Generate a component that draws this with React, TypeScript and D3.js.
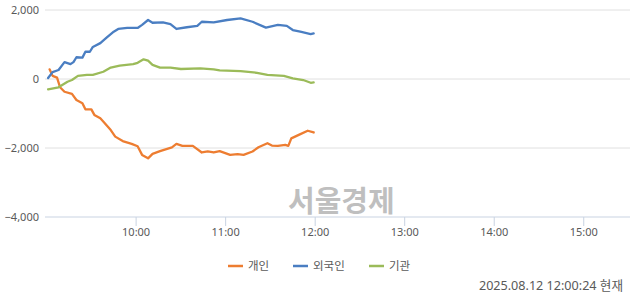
import React from "react";
import * as d3 from "d3";

const W = 640;
const H = 294;

const yTicks = [2000, 0, -2000, -4000];
const xTickLabels = ["10:00", "11:00", "12:00", "13:00", "14:00", "15:00"];

const personTimes = ["09:02","09:04","09:07","09:09","09:12","09:17","09:20","09:24","09:26","09:30","09:32","09:36","09:39","09:43","09:46","09:51","09:57","10:01","10:04","10:08","10:11","10:16","10:24","10:27","10:31","10:38","10:44","10:48","10:52","10:56","11:03","11:08","11:12","11:18","11:22","11:28","11:31","11:35","11:40","11:42","11:44","11:49","11:55","11:59"];
const personValues = [280,90,40,-240,-370,-430,-610,-700,-880,-880,-1040,-1140,-1280,-1480,-1670,-1800,-1880,-1950,-2200,-2300,-2170,-2090,-1980,-1880,-1940,-1940,-2130,-2100,-2130,-2090,-2200,-2180,-2200,-2100,-1980,-1860,-1930,-1940,-1910,-1940,-1720,-1620,-1500,-1550];

const foreignTimes = ["09:01","09:04","09:08","09:12","09:16","09:18","09:20","09:24","09:26","09:29","09:31","09:36","09:40","09:45","09:48","09:54","10:01","10:04","10:08","10:11","10:18","10:23","10:27","10:34","10:41","10:44","10:52","11:01","11:10","11:18","11:27","11:35","11:41","11:45","11:50","11:57","11:59"];
const foreignValues = [30,200,260,490,430,490,630,620,790,790,930,1040,1190,1370,1450,1480,1480,1570,1710,1630,1640,1590,1450,1500,1540,1660,1640,1710,1760,1660,1490,1570,1540,1420,1370,1300,1320];

const instTimes = ["09:01","09:08","09:14","09:17","09:21","09:27","09:31","09:38","09:43","09:49","09:58","10:01","10:05","10:08","10:11","10:16","10:23","10:30","10:43","10:52","10:56","11:10","11:21","11:28","11:39","11:45","11:52","11:57","11:59"];
const instValues = [-300,-240,-80,-30,90,120,120,210,330,390,430,470,570,530,410,330,330,290,310,280,250,230,180,120,90,20,-30,-110,-100];

const seriesNames = ["개인", "외국인", "기관"];
const seriesColors = ["#ED7D31", "#4A7EC2", "#9BBB59"];
const footerText = "2025.08.12 12:00:24 현재";
const watermark = "서울경제";

const parse = d3.timeParse("%H:%M");

export default function App() {
  const left = 46.6;
  const right = 630;
  const x = d3
    .scaleTime()
    .domain([parse("09:00") as Date, parse("15:31") as Date])
    .range([left, right]);
  const y = d3.scaleLinear().domain([-4000, 2000]).range([217, 10]);

  const series = [
    { times: personTimes, values: personValues },
    { times: foreignTimes, values: foreignValues },
    { times: instTimes, values: instValues },
  ];

  const line = d3
    .line<[Date, number]>()
    .x((d) => x(d[0]))
    .y((d) => y(d[1]));

  const font = "'Noto Sans', 'Noto Sans CJK KR', sans-serif";
  const kfont = "'Noto Sans CJK KR', 'Noto Sans', sans-serif";
  const textColor = "#595959";

  const legendX = [228, 293, 369];

  return (
    <svg
      width={W}
      height={H}
      style={{ position: "absolute", left: 0, top: 0, background: "#fff" }}
    >
      {yTicks.map((t) => (
        <g key={t}>
          <line
            x1={45}
            x2={right}
            y1={y(t)}
            y2={y(t)}
            stroke={t === -4000 ? "#c9d3e2" : "#e0e0e0"}
            strokeWidth={1}
          />
          <text
            x={39}
            y={y(t)}
            dy="0.35em"
            textAnchor="end"
            fontSize={11}
            fontFamily={font}
            fill={textColor}
          >
            {d3.format(",")(t)}
          </text>
        </g>
      ))}
      {xTickLabels.map((lab) => {
        const xx = x(parse(lab) as Date);
        return (
          <g key={lab}>
            <line x1={xx} x2={xx} y1={217} y2={226} stroke="#c9d3e2" />
            <text
              x={xx}
              y={232}
              dy="0.35em"
              textAnchor="middle"
              fontSize={11}
              fontFamily={font}
              fill={textColor}
            >
              {lab}
            </text>
          </g>
        );
      })}
      <text
        x={288}
        y={212}
        fontSize={29}
        fontWeight="bold"
        fontFamily={kfont}
        fill="#bfbfbf"
      >
        {watermark}
      </text>
      {series.map((s, i) => {
        const pts: [Date, number][] = s.times.map((t, j) => [
          parse(t) as Date,
          s.values[j],
        ]);
        return (
          <path
            key={i}
            d={line(pts) || ""}
            fill="none"
            stroke={seriesColors[i]}
            strokeWidth={2.3}
            strokeLinejoin="round"
            strokeLinecap="round"
          />
        );
      })}
      {seriesNames.map((n, i) => (
        <g key={n}>
          <line
            x1={legendX[i]}
            x2={legendX[i] + 15}
            y1={266}
            y2={266}
            stroke={seriesColors[i]}
            strokeWidth={2.5}
          />
          <text
            x={legendX[i] + 20}
            y={266}
            dy="0.35em"
            fontSize={11.5}
            fontFamily={kfont}
            fill={textColor}
          >
            {n}
          </text>
        </g>
      ))}
      <text
        x={623}
        y={285.5}
        dy="0.35em"
        textAnchor="end"
        fontSize={12.6}
        fontFamily={font}
        fill={textColor}
      >
        {footerText}
      </text>
    </svg>
  );
}
